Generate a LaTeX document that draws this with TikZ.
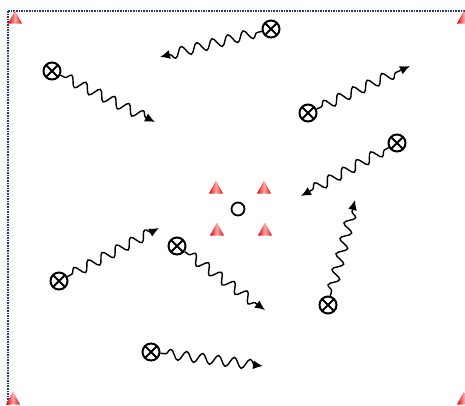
\documentclass[tikz,border=0pt]{standalone}
\usetikzlibrary{decorations.pathmorphing,arrows.meta}
\definecolor{bordercol}{RGB}{31,61,110}
\begin{document}
\begin{tikzpicture}[x=1pt,y=-1pt,
  player/.style={circle,draw=black,line width=2pt,minimum size=17pt,inner sep=0pt,
    path picture={\draw[line width=1.8pt] (path picture bounding box.south west) -- (path picture bounding box.north east)
      (path picture bounding box.north west) -- (path picture bounding box.south east);}},
  ballnode/.style={circle,draw=black,line width=1.8pt,minimum size=13pt,inner sep=0pt},
  wave/.style={line width=1.4pt,decorate,
    decoration={snake,segment length=16pt,amplitude=5pt,pre length=5pt,post length=8pt},
    -{Latex[length=10pt,width=9pt]}},
  border/.style={draw=bordercol,line width=1.4pt,dash pattern=on 1.6pt off 1pt},
  cone/.pic={\shade[left color=red!90!black,right color=red!90!black,middle color=red!35]
    (-7,6.5) -- (0,-6.5) -- (7,6.5) -- cycle;}
]
\useasboundingbox (0,0) rectangle (465,405);
\path[border] (8,11) rectangle (480,420);
% corner cones
\pic (k1) at (15,17) {cone};
\pic (k2) at (464,17) {cone};
\pic (k3) at (13,398) {cone};
\pic (k4) at (464,398) {cone};
% centre cones
\pic (k5) at (216,187) {cone};
\pic (k6) at (264,187) {cone};
\pic (k7) at (217,229) {cone};
\pic (k8) at (265,229) {cone};
\node[ballnode] (b) at (238,209) {};
% players
\node[player] (p1) at (52,71) {};
\node[player] (p2) at (271,29) {};
\node[player] (p3) at (308,113) {};
\node[player] (p4) at (397,143) {};
\node[player] (p5) at (59,281) {};
\node[player] (p6) at (177,246) {};
\node[player] (p7) at (328,305) {};
\node[player] (p8) at (151,352) {};
% arrow ends
\coordinate (e1) at (155,122);
\coordinate (e2) at (160,57);
\coordinate (e3) at (410,66);
\coordinate (e4) at (301,196);
\coordinate (e5) at (159,228);
\coordinate (e6) at (265,310);
\coordinate (e7) at (355,200);
\coordinate (e8) at (263,366);
\foreach \i in {1,...,8} {\draw[wave] (p\i) -- (e\i);}
\end{tikzpicture}
\end{document}
